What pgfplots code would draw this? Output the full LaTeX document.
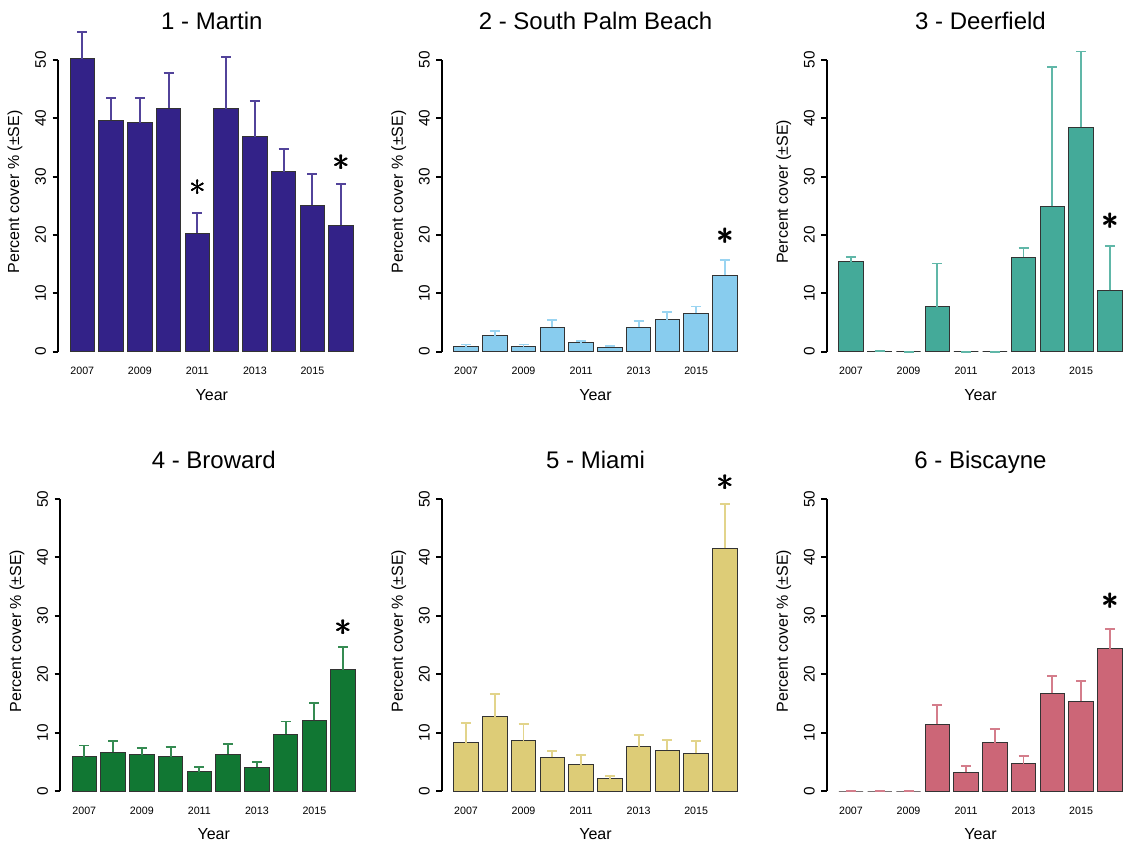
\documentclass[border=0pt]{standalone}
\usepackage{pgfplots}
\pgfplotsset{compat=1.18}
\usepackage{fontspec}
\setmainfont{Liberation Sans}
\definecolor{cA}{HTML}{332288}
\definecolor{cB}{HTML}{88CCEE}
\definecolor{cC}{HTML}{44AA99}
\definecolor{cD}{HTML}{117733}
\definecolor{cE}{HTML}{DDCC77}
\definecolor{cF}{HTML}{CC6677}
\definecolor{bord}{HTML}{333333}

% year index, value, upper error
\pgfplotstableread{
x y e
1 50.2 4.5
2 39.6 3.9
3 39.2 4.3
4 41.7 6.0
5 20.3 3.5
6 41.6 8.9
7 36.8 6.2
8 30.8 3.9
9 25.1 5.4
10 21.7 7.0
}\martin
\pgfplotstableread{
x y e
1 0.85 0.4
2 2.7 0.9
3 0.85 0.4
4 4.2 1.2
5 1.5 0.4
6 0.8 0.2
7 4.2 1.1
8 5.5 1.3
9 6.6 1.15
10 13.1 2.6
}\spb
\pgfplotstableread{
x y e
1 15.4 0.8
2 0.1 0.05
3 0 0
4 7.7 7.4
5 0 0
6 0 0
7 16.2 1.6
8 24.9 23.8
9 38.4 13.0
10 10.5 7.6
}\deer
\pgfplotstableread{
x y e
1 5.9 1.9
2 6.6 2.0
3 6.2 1.2
4 5.9 1.6
5 3.3 0.8
6 6.3 1.8
7 4.1 0.9
8 9.7 2.2
9 12.1 2.9
10 20.8 3.8
}\broward
\pgfplotstableread{
x y e
1 8.3 3.4
2 12.7 3.9
3 8.6 2.9
4 5.8 1.0
5 4.5 1.6
6 2.1 0.5
7 7.6 2.0
8 7.0 1.7
9 6.5 2.1
10 41.6 7.6
}\miami
\pgfplotstableread{
x y e
1 0 0
2 0 0
3 0 0
4 11.4 3.4
5 3.2 1.1
6 8.3 2.3
7 4.7 1.3
8 16.7 3.0
9 15.4 3.5
10 24.4 3.4
}\bisc

\tikzset{sigst/.style={font=\fontsize{46}{46}\selectfont, inner sep=0pt}}

\pgfplotsset{
  panel/.style={
    scale only axis,
    width=230.7pt, height=219pt,
    xmin=0.155, xmax=10.85,
    ymin=0, ymax=50,
    clip=false,
    axis y line*=left,
    axis x line*=bottom,
    x axis line style={draw=none},
    y axis line style={line width=1.5pt, black},
    ytick={0,10,20,30,40,50},
    ytick style={line width=1.5pt, black},
    tick align=outside,
    major tick length=4pt,
    xtick={1,3,5,7,9},
    xticklabels={2007,2009,2011,2013,2015},
    xtick style={draw=none},
    xticklabel style={font=\fontsize{8}{9}\selectfont, anchor=center, yshift=-10.5pt},
    yticklabel style={font=\fontsize{11.5}{12}\selectfont, xshift=-9pt, rotate=90, anchor=center},
    /pgf/number format/assume math mode=true,
    xlabel={Year},
    xlabel style={font=\fontsize{12}{14}\selectfont, at={(axis description cs:0.5,0)}, anchor=center, yshift=-32.5pt},
    ylabel={Percent cover \% (\textpm SE)},
    ylabel style={font=\fontsize{12}{14}\selectfont, at={(axis description cs:-0.14,0.548)}, anchor=center, rotate=0},
    title style={font=\fontsize{18}{20}\selectfont, text depth=0pt, at={(axis description cs:0.5,1)}, anchor=center, yshift=23.5pt},
  },
  bars/.style={
    ybar, bar width=0.85, draw=bord, line width=0.75pt, fill=#1,
    error bars/.cd, y dir=plus, y explicit,
    error bar style={line width=1.4pt, color=#1!85!white},
    error mark options={rotate=90, mark size=3.75pt, line width=1.4pt, color=#1!85!white},
  },
}
\newcommand{\sigstar}[2]{%
  \node[sigst] at (axis cs:#1,#2) {$\ast$};
  \node[sigst, xshift=0.45pt] at (axis cs:#1,#2) {$\ast$};
  \node[sigst, yshift=0.45pt] at (axis cs:#1,#2) {$\ast$};
  \node[sigst, xshift=0.45pt, yshift=0.45pt] at (axis cs:#1,#2) {$\ast$};
}

\begin{document}
\begin{tikzpicture}
\path[use as bounding box] (0,0) rectangle (842.25pt,633pt);

\begin{axis}[panel, at={(43.5pt,369.2pt)}, anchor=south west, title={1 - Martin}]
\addplot[bars=cA] table[x=x, y=y, y error=e] {\martin};
\sigstar{5}{28.0}
\sigstar{10}{32.3}
\end{axis}

\begin{axis}[panel, at={(331.3pt,369.2pt)}, anchor=south west, title={2 - South Palm Beach}]
\addplot[bars=cB] table[x=x, y=y, y error=e] {\spb};
\sigstar{10}{19.7}
\end{axis}

\begin{axis}[panel, at={(620pt,369.2pt)}, anchor=south west, title={3 - Deerfield}, ylabel={Percent cover (\textpm SE)}]
\addplot[bars=cC] table[x=x, y=y, y error=e] {\deer};
\sigstar{10}{22.3}
\end{axis}

\begin{axis}[panel, at={(45pt,39.75pt)}, anchor=south west, title={4 - Broward}]
\addplot[bars=cD] table[x=x, y=y, y error=e] {\broward};
\sigstar{10}{27.9}
\end{axis}

\begin{axis}[panel, at={(331.3pt,39.75pt)}, anchor=south west, title={5 - Miami}]
\addplot[bars=cE] table[x=x, y=y, y error=e] {\miami};
\sigstar{10}{52.7}
\end{axis}

\begin{axis}[panel, at={(620pt,39.75pt)}, anchor=south west, title={6 - Biscayne}]
\addplot[bars=cF] table[x=x, y=y, y error=e] {\bisc};
\sigstar{10}{32.4}
\end{axis}
\end{tikzpicture}
\end{document}
